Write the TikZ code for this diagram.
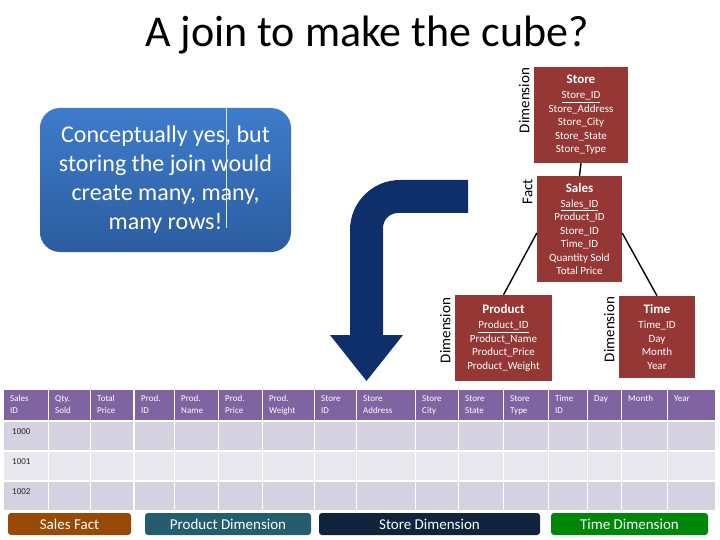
\documentclass[tikz,border=0pt]{standalone}
\usepackage{fontspec}
\setmainfont{Carlito}
\usetikzlibrary{calc}
\definecolor{erred}{HTML}{953735}
\definecolor{hdrpurple}{HTML}{8064A2}
\definecolor{rowdark}{HTML}{D4D1E0}
\definecolor{rowlight}{HTML}{EAE8EF}
\definecolor{arrownavy}{HTML}{0F2F6B}
\definecolor{calltop}{HTML}{3F7CCB}
\definecolor{callbot}{HTML}{2B5C9F}
\definecolor{factbrown}{HTML}{984807}
\definecolor{prodteal}{HTML}{245E6E}
\definecolor{storenavy}{HTML}{10243E}
\definecolor{timegreen}{HTML}{00870A}
\tikzset{
  title/.style={anchor=base, font=\fontsize{44}{48}\selectfont},
  callout/.style={rounded corners=20pt, top color=calltop, bottom color=callbot, text=white, align=center,
    minimum width=251, minimum height=144, font=\fontsize{24}{29}\selectfont},
  entity/.style={fill=erred, text=white, align=center, inner sep=0pt, font=\fontsize{11}{13.5}\selectfont},
  role/.style={rotate=90, anchor=south east, inner sep=1pt, font=\fontsize{15}{15}\selectfont},
  link/.style={black, line width=1.4pt},
  hdrcell/.style={anchor=north west, fill=hdrpurple, text=white, align=left, inner xsep=6pt, inner ysep=2pt,
    minimum height=30, font=\fontsize{9}{12}\selectfont},
  datacell/.style={anchor=north west, inner sep=0pt, minimum height=28},
  rowlabel/.style={anchor=north west, inner sep=0pt, text=black!85, font=\fontsize{9}{11}\selectfont},
  legend/.style={rounded corners=3pt, text=white, minimum height=22, inner sep=0pt, font=\fontsize{15}{15}\selectfont}
}
\newcommand{\entname}[1]{{\fontsize{13}{15}\selectfont\bfseries #1}}
\def\tablecols{4/44/Sales/ID, 49/41/Qty./Sold, 91/42/Total/Price, 135/39/Prod./ID, 175/43/Prod./Name,
  219/43/Prod./Price, 263/51/Prod./Weight, 315/41/Store/ID, 357/58/Store/Address, 416/42/Store/City,
  459/44/Store/State, 504/44/Store/Type, 549/38/Time/ID, 588/33/Day/{}, 622/45/Month/{}, 668/47/Year/{}}
\begin{document}
\begin{tikzpicture}[x=1pt, y=-1pt]
  \useasboundingbox (0,0) rectangle (720,540);
  \node[title] (head) at (367,47) {A join to make the cube?};
  % callout and bent arrow
  \node[callout] (note) at (165.5,180) {Conceptually yes, but\\storing the join would\\create many, many,\\many rows!};
  \draw[white!80!gray, line width=0.8pt] ($(note.north west)+(187,0)$) -- ++(0,120);
  \fill[arrownavy] (468,180) -- (400,180) .. controls (372.4,180) and (350,202.4) .. (350,230)
    -- (350,335) -- (330,335) -- (366.5,381) -- (403,335) -- (383,335) -- (383,228)
    .. controls (383,219.7) and (389.7,213) .. (398,213) -- (468,213) -- cycle;
  % star schema
  \node[entity, minimum width=94, minimum height=96] (store) at (581,115)
    {\entname{Store}\\[1.5pt]\underline{Store\_ID}\\Store\_Address\\Store\_City\\Store\_State\\Store\_Type};
  \node[entity, minimum width=85, minimum height=106] (sales) at (579.5,229)
    {\entname{Sales}\\[1.5pt]\underline{Sales\_ID}\\Product\_ID\\Store\_ID\\Time\_ID\\Quantity Sold\\Total Price};
  \node[entity, minimum width=97, minimum height=86] (product) at (503.5,338)
    {\entname{Product}\\[1.5pt]\underline{Product\_ID}\\Product\_Name\\Product\_Price\\Product\_Weight};
  \node[entity, minimum width=76, minimum height=82] (time) at (657,337)
    {\entname{Time}\\[1.5pt]Time\_ID\\Day\\Month\\Year};
  \node[role] (storerole) at ($(store.north west)+(-3,0)$) {Dimension};
  \node[role] (salesrole) at ($(sales.north west)+(-3,2)$) {Fact};
  \node[role] (productrole) at ($(product.north west)+(-3,2)$) {Dimension};
  \node[role] (timerole) at ($(time.north west)+(-3,0)$) {Dimension};
  \draw[link] (store.south) -- (sales.north);
  \draw[link] ($(sales.west)+(0,4)$) -- (product.north);
  \draw[link] ($(sales.east)+(0,4)$) -- (time.north);
  % joined table
  \foreach \x/\w/\ta/\tb [count=\i] in \tablecols {
    \pgfmathsetmacro\tw{\w-12}
    \node[hdrcell, minimum width=\w, text width=\tw pt] (h\i) at (\x,390) {\strut\ta\\\strut\tb};
  }
  \foreach \y/\fillc/\lab [count=\r] in {422/rowdark/1000, 452/rowlight/1001, 482/rowdark/1002} {
    \foreach \x/\w/\ta/\tb [count=\i] in \tablecols
      \node[datacell, fill=\fillc, minimum width=\w] (c\r-\i) at (\x,\y) {};
    \node[rowlabel] (lab\r) at ($(c\r-1.north west)+(8,6)$) {\lab};
  }
  % legend
  \node[legend, fill=factbrown, minimum width=123] (lfact) at (69.5,524) {Sales Fact};
  \node[legend, fill=prodteal, minimum width=166] (lprod) at (228,524) {Product Dimension};
  \node[legend, fill=storenavy, minimum width=221] (lstore) at (429.5,524) {Store Dimension};
  \node[legend, fill=timegreen, minimum width=157] (ltime) at (629.5,524) {Time Dimension};
\end{tikzpicture}
\end{document}
